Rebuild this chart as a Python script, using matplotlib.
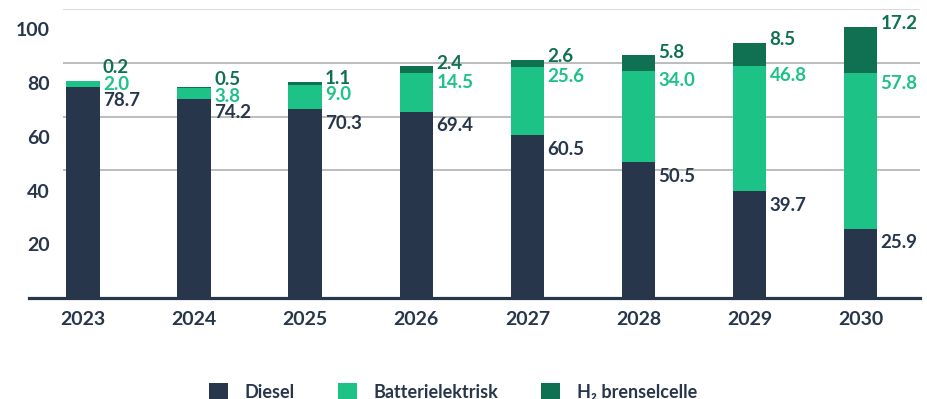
import matplotlib
matplotlib.use("Agg")
import matplotlib.pyplot as plt
from matplotlib.patches import Patch

plt.rcParams["font.family"] = ["Lato", "DejaVu Sans"]

years = ["2023", "2024", "2025", "2026", "2027", "2028", "2029", "2030"]
diesel = [78.7, 74.2, 70.3, 69.4, 60.5, 50.5, 39.7, 25.9]
battery = [2.0, 3.8, 9.0, 14.5, 25.6, 34.0, 46.8, 57.8]
hydrogen = [0.2, 0.5, 1.1, 2.4, 2.6, 5.8, 8.5, 17.2]

series_names = ["Diesel", "Batterielektrisk", "H₂ brenselcelle"]
tick_values = [20, 40, 60, 80, 100]
grid_levels = [47.5, 67.5, 87.5, 107.5]

C_DIESEL = "#27364b"
C_BATT = "#1dc286"
C_H2 = "#107152"
C_TEXT = "#27364b"

W, H = 927, 399
fig = plt.figure(figsize=(W / 100, H / 100), dpi=100)
ax = fig.add_axes([29 / W, 1 - 298.3 / H, (920 - 29) / W, (298.3 - 9) / H])

x = list(range(len(years)))
bw = 0.3
b1 = [d + b for d, b in zip(diesel, battery)]
ax.bar(x, diesel, width=bw, color=C_DIESEL, zorder=3)
ax.bar(x, battery, width=bw, bottom=diesel, color=C_BATT, zorder=3)
ax.bar(x, hydrogen, width=bw, bottom=b1, color=C_H2, zorder=3)

ax.set_xlim(-0.486, 7.535)
ax.set_ylim(0, 107.5)

# light horizontal guides; the top one is paler
for g in grid_levels:
    col = "#cdd0d4" if g == max(grid_levels) else "#a9abae"
    ax.hlines(g, -0.18, 7.535, colors=col, linewidth=1.1, zorder=1)

for s in ["top", "right", "left"]:
    ax.spines[s].set_visible(False)
ax.spines["bottom"].set_color(C_DIESEL)
ax.spines["bottom"].set_linewidth(2.3)

ax.set_xticks(x)
ax.set_xticklabels(years)
ax.set_yticks(tick_values)
ax.set_yticklabels([str(v) for v in tick_values])
ax.tick_params(axis="x", length=0, pad=9, labelsize=14, labelcolor=C_TEXT)
ax.tick_params(axis="y", length=0, pad=-15, labelsize=14, labelcolor=C_TEXT)
for lab in ax.get_xticklabels() + ax.get_yticklabels():
    lab.set_fontweight("bold")

# value labels to the right of each bar, stacked so they never collide
fig.canvas.draw()
to_px = ax.transData
from_px = ax.transData.inverted()
min_gap = 16.5
for i in range(len(years)):
    tops = [diesel[i], b1[i], b1[i] + hydrogen[i]]
    vals = [diesel[i], battery[i], hydrogen[i]]
    cols = [C_DIESEL, C_BATT, C_H2]
    shifts = [-14, -10, 3]
    ys = []
    for t, sh in zip(tops, shifts):
        _, py = to_px.transform((i, t))
        ys.append(py + sh)
    for k in range(1, 3):
        if ys[k] < ys[k - 1] + min_gap:
            ys[k] = ys[k - 1] + min_gap
    for v, py, c in zip(vals, ys, cols):
        _, dy = from_px.transform((0, py))
        ax.text(i + 0.18, dy, f"{v:.1f}", color=c, fontsize=13.5,
                fontweight="bold", ha="left", va="center", zorder=4)

handles = [Patch(facecolor=C_DIESEL), Patch(facecolor=C_BATT), Patch(facecolor=C_H2)]
leg = fig.legend(handles, series_names, loc="center", ncol=3,
                 bbox_to_anchor=(453 / W, 1 - 392 / H), frameon=False,
                 fontsize=13, handlelength=1.05, handleheight=1.05,
                 handletextpad=0.9, columnspacing=2.4, borderaxespad=0)
for t in leg.get_texts():
    t.set_color(C_TEXT)
    t.set_fontweight("bold")

fig.savefig("out.png", dpi=100)
